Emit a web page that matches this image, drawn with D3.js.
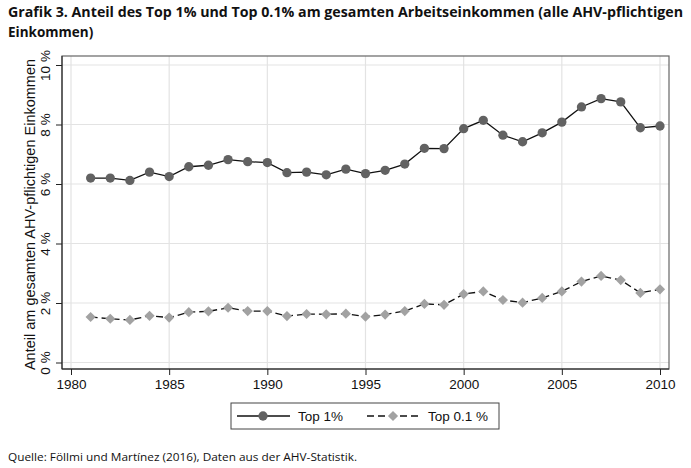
<!DOCTYPE html>
<html><head><meta charset="utf-8">
<script src="https://cdn.jsdelivr.net/npm/d3@7"></script>
<style>body{margin:0;background:#fff}svg{display:block}</style>
</head><body>
<svg id="c" width="691" height="468"></svg>
<script>
const years = [1981,1982,1983,1984,1985,1986,1987,1988,1989,1990,1991,1992,1993,1994,1995,1996,1997,1998,1999,2000,2001,2002,2003,2004,2005,2006,2007,2008,2009,2010];
const top1 = [6.20,6.20,6.12,6.40,6.25,6.58,6.63,6.82,6.75,6.72,6.38,6.40,6.31,6.50,6.35,6.46,6.67,7.20,7.19,7.86,8.14,7.64,7.42,7.72,8.08,8.59,8.87,8.76,7.89,7.95];
const top01 = [1.53,1.47,1.43,1.57,1.51,1.69,1.72,1.84,1.73,1.73,1.56,1.63,1.62,1.64,1.54,1.61,1.73,1.97,1.94,2.30,2.39,2.10,2.01,2.17,2.39,2.72,2.91,2.77,2.34,2.46];
const xTicks = [1980,1985,1990,1995,2000,2005,2010];
const yTicks = [0,2,4,6,8,10];
const seriesNames = ["Top 1%","Top 0.1 %"];
const titleLines = ["Grafik 3. Anteil des Top 1% und Top 0.1% am gesamten Arbeitseinkommen (alle AHV-pflichtigen","Einkommen)"];
const yTitle = "Anteil am gesamten AHV-pflichtigen Einkommen";
const source = "Quelle: Föllmi und Martínez (2016), Daten aus der AHV-Statistik.";

const svg = d3.select("#c");
const F = "'Liberation Sans', Arial, sans-serif";
const TF = "'Open Sans', 'Noto Sans', sans-serif";
const box = {l:62, t:56, r:669, b:369};
const x = d3.scaleLinear().domain([1980,2010]).range([71,660]);
const y = d3.scaleLinear().domain([0,10]).range([362.5,65]);

// title
svg.selectAll("text.title").data(titleLines).join("text")
  .attr("x",8).attr("y",(d,i)=>17+i*20)
  .attr("font-family",TF).attr("font-weight","bold").attr("font-size",13.5)
  .attr("fill","#111")
  .attr("textLength",(d,i)=> i===0?675:null)
  .attr("lengthAdjust","spacingAndGlyphs")
  .text(d=>d);

// gridlines
svg.append("g").selectAll("line").data(yTicks).join("line")
  .attr("x1",box.l).attr("x2",box.r).attr("y1",d=>y(d)).attr("y2",d=>y(d))
  .attr("stroke","#e3e3e3").attr("stroke-width",1.2);
svg.append("g").selectAll("line").data(xTicks).join("line")
  .attr("y1",box.t).attr("y2",box.b).attr("x1",d=>x(d)).attr("x2",d=>x(d))
  .attr("stroke","#e3e3e3").attr("stroke-width",1.2);

// frame
svg.append("rect").attr("x",box.l).attr("y",box.t).attr("width",box.r-box.l).attr("height",box.b-box.t)
  .attr("fill","none").attr("stroke","#666").attr("stroke-width",1.2);

// axes
const yAxis = d3.axisLeft(y).tickValues(yTicks).tickSize(6).tickPadding(4).tickFormat(d=>d+" %");
const gy = svg.append("g").attr("transform",`translate(${box.l},0)`).call(yAxis);
gy.select(".domain").attr("d",`M0,${box.t}V${box.b}`).attr("stroke","#222");
gy.selectAll(".tick line").attr("stroke","#222");
gy.selectAll(".tick text").attr("font-family",F).attr("font-size",13.5).attr("fill","#111")
  .attr("transform",`rotate(-90,-12,0)`)
  .attr("x",-12).attr("dy",0).attr("text-anchor","middle");

const xAxis = d3.axisBottom(x).tickValues(xTicks).tickSize(6).tickPadding(4).tickFormat(d3.format("d"));
const gx = svg.append("g").attr("transform",`translate(0,${box.b})`).call(xAxis);
gx.select(".domain").attr("d",`M${box.l},0H${box.r}`).attr("stroke","#222");
gx.selectAll(".tick line").attr("stroke","#222");
gx.selectAll(".tick text").attr("font-family",F).attr("font-size",13.5).attr("fill","#111");

// y title
svg.append("text").attr("transform",`translate(35,${(box.t+box.b)/2+2}) rotate(-90)`)
  .attr("text-anchor","middle").attr("font-family",F).attr("font-size",14.5).attr("fill","#111")
  .text(yTitle);

// series
const line = d3.line().x((d,i)=>x(years[i])).y(d=>y(d));
svg.append("path").datum(top01).attr("d",line).attr("fill","none")
  .attr("stroke","#111").attr("stroke-width",1.3).attr("stroke-dasharray","7,4");
svg.append("path").datum(top1).attr("d",line).attr("fill","none")
  .attr("stroke","#111").attr("stroke-width",1.3);

const circ = d3.symbol().type(d3.symbolCircle).size(68);
const diam = d3.symbol().type(d3.symbolSquare).size(52);
svg.append("g").selectAll("path").data(top1).join("path")
  .attr("d",circ).attr("transform",(d,i)=>`translate(${x(years[i])},${y(d)})`).attr("fill","#626262");
svg.append("g").selectAll("path").data(top01).join("path")
  .attr("d",diam).attr("transform",(d,i)=>`translate(${x(years[i])},${y(d)}) rotate(45)`).attr("fill","#a2a2a2");

// legend
const lg = svg.append("g");
lg.append("rect").attr("x",231).attr("y",403).attr("width",268).attr("height",26)
  .attr("fill","#fff").attr("stroke","#444").attr("stroke-width",1);
const ly = 416;
lg.append("line").attr("x1",237).attr("x2",290).attr("y1",ly).attr("y2",ly).attr("stroke","#111").attr("stroke-width",1.3);
lg.append("path").attr("d",circ).attr("transform",`translate(263,${ly})`).attr("fill","#626262");
lg.append("text").attr("x",298).attr("y",ly+5).attr("font-family",F).attr("font-size",13.5).attr("fill","#111").text(seriesNames[0]);
lg.append("line").attr("x1",367).attr("x2",420).attr("y1",ly).attr("y2",ly).attr("stroke","#111").attr("stroke-width",1.3).attr("stroke-dasharray","7,4");
lg.append("path").attr("d",diam).attr("transform",`translate(393,${ly}) rotate(45)`).attr("fill","#a2a2a2");
lg.append("text").attr("x",428).attr("y",ly+5).attr("font-family",F).attr("font-size",13.5).attr("fill","#111").text(seriesNames[1]);

// source
svg.append("text").attr("x",8).attr("y",461).attr("font-family",TF).attr("font-size",11.5).attr("fill","#111")
  .attr("textLength",349).attr("lengthAdjust","spacingAndGlyphs").text(source);
</script>
</body></html>
